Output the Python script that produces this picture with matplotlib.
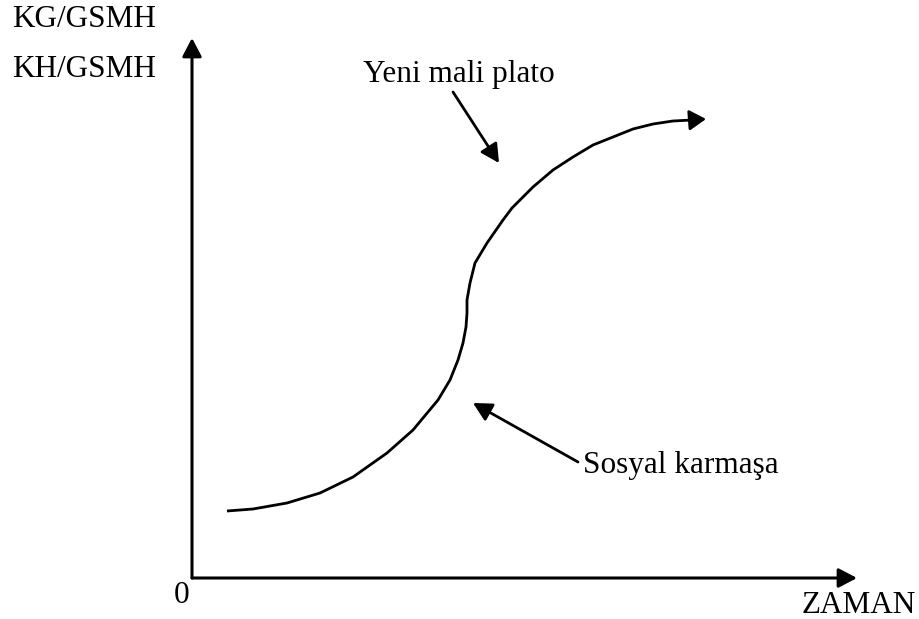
import matplotlib.pyplot as plt

plt.rcParams['font.family'] = ['Liberation Serif', 'DejaVu Serif']

# S-curve (pixel space, y grows downwards)
curve_x = [227, 253, 287, 320, 353, 387, 413, 438, 450, 458, 463, 466, 467, 467,
           470, 475, 487, 503, 512, 533, 553, 573, 593, 613, 633, 653, 673, 692]
curve_y = [511, 509, 503, 493, 477, 453, 430, 400, 380, 360, 343, 327, 313, 300,
           283, 263, 243, 220, 208, 187, 170, 157, 145, 137, 129, 124, 121, 120]
curve_tip = (706, 119)

origin = (192, 578)
y_axis_top = (192, 38)
x_axis_end = (857, 578)

y_labels = ["KG/GSMH", "KH/GSMH"]
x_label = "ZAMAN"
notes = ["Yeni mali plato", "Sosyal karmaşa"]
note_text_pos = [(363, 82), (583, 473)]
note_tail = [(453, 92), (578, 462)]
note_tip = [(499, 163), (473, 403)]

fig = plt.figure(figsize=(9.2, 6.19), dpi=100)
ax = fig.add_axes([0, 0, 1, 1])
ax.set_xlim(0, 920)
ax.set_ylim(619, 0)
ax.axis('off')

head = dict(arrowstyle='-|>,head_length=0.8,head_width=0.42', color='black',
            lw=2.2, shrinkA=0, shrinkB=0, mutation_scale=14)

# axes
ax.annotate('', xy=y_axis_top, xytext=origin, arrowprops=head)
ax.annotate('', xy=x_axis_end, xytext=origin, arrowprops=head)

# curve
ax.plot(curve_x, curve_y, color='black', lw=2.0, solid_capstyle='butt',
        solid_joinstyle='round')
ax.annotate('', xy=curve_tip, xytext=(curve_x[-1], curve_y[-1]),
            arrowprops=dict(head, lw=2.0,
                            arrowstyle='-|>,head_length=0.72,head_width=0.44'))

fs = 22.5
ax.text(12, 27, y_labels[0], fontsize=fs, va='baseline', ha='left')
ax.text(12, 77, y_labels[1], fontsize=fs, va='baseline', ha='left')
ax.text(182, 603, "0", fontsize=fs, va='baseline', ha='center')
ax.text(916, 613, x_label, fontsize=fs, va='baseline', ha='right')

for txt, pos, tail, tip in zip(notes, note_text_pos, note_tail, note_tip):
    ax.text(pos[0], pos[1], txt, fontsize=fs, va='baseline', ha='left')
    ax.annotate('', xy=tip, xytext=tail, arrowprops=dict(head, lw=2.0))

fig.savefig('out.png', dpi=100)
